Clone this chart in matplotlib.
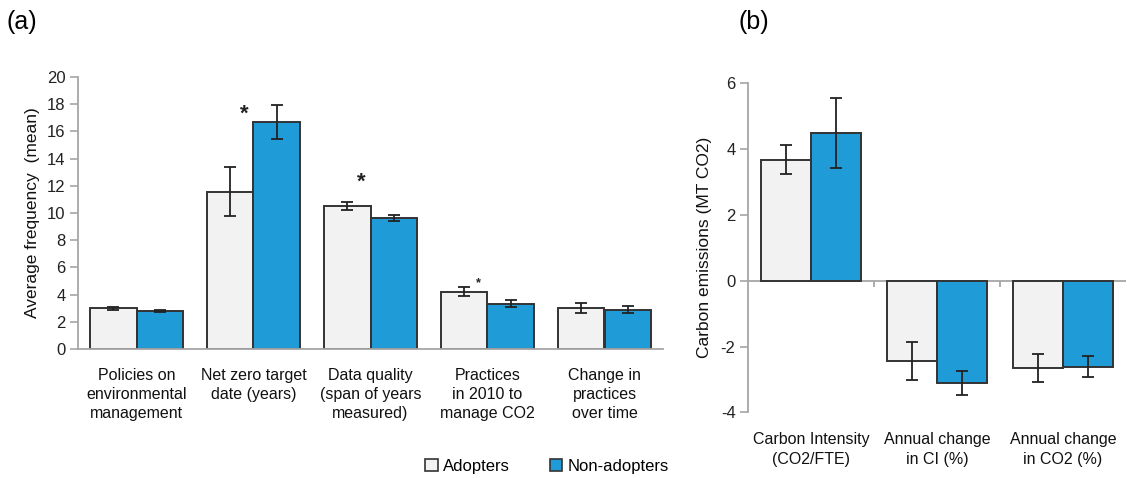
import matplotlib
matplotlib.use("Agg")
import matplotlib.pyplot as plt
from matplotlib.patches import Patch
import numpy as np

plt.rcParams['font.family'] = ['Liberation Sans', 'DejaVu Sans']
plt.rcParams['axes.unicode_minus'] = False

# ---- data panel (a)
cats_a = ["Policies on\nenvironmental\nmanagement", "Net zero target\ndate (years)",
          "Data quality\n(span of years\nmeasured)", "Practices\nin 2010 to\nmanage CO2",
          "Change in\npractices\nover time"]
adopt_a = [3.0, 11.57, 10.5, 4.2, 3.0]
adopt_a_err = [0.1, 1.8, 0.3, 0.33, 0.36]
non_a = [2.8, 16.67, 9.62, 3.32, 2.9]
non_a_err = [0.1, 1.25, 0.22, 0.25, 0.27]
stars_a_cat = [1, 2, 3]
stars_a_y = [17.3, 12.3, 4.85]
stars_a_size = [16, 16, 9]

# ---- data panel (b)
cats_b = ["Carbon Intensity\n(CO2/FTE)", "Annual change\nin CI (%)", "Annual change\nin CO2 (%)"]
adopt_b = [3.68, -2.44, -2.65]
adopt_b_err = [0.43, 0.58, 0.42]
non_b = [4.49, -3.10, -2.61]
non_b_err = [1.07, 0.36, 0.33]

c_ad = "#f2f2f2"
c_non = "#1f9cd8"
edge = "#333333"
axc = "#a6a6a6"

fig = plt.figure(figsize=(11.27, 4.78), dpi=100)
W, H = 1127, 478
ax_a = fig.add_axes([78 / W, 1 - 349 / H, (663 - 78) / W, (349 - 77) / H])
ax_b = fig.add_axes([748 / W, 1 - 412.3 / H, (1126 - 748) / W, (412.3 - 83.3) / H])

bw = 0.4
ekw = dict(ecolor="#222222", elinewidth=1.3, capsize=4, capthick=1.3)


def draw(ax, adopt, adopt_err, non, non_err):
    x = np.arange(len(adopt))
    ax.bar(x - bw / 2, adopt, bw, color=c_ad, edgecolor=edge, linewidth=1.4,
           yerr=adopt_err, error_kw=ekw, zorder=2)
    ax.bar(x + bw / 2, non, bw, color=c_non, edgecolor=edge, linewidth=1.4,
           yerr=non_err, error_kw=ekw, zorder=2)
    ax.set_xlim(-0.5, len(adopt) - 0.5)
    for s in ["top", "right"]:
        ax.spines[s].set_visible(False)
    ax.spines["left"].set_color(axc)
    ax.spines["left"].set_linewidth(1.3)
    ax.tick_params(axis="y", colors=axc, labelcolor="#222222", labelsize=12,
                   length=6, width=1.2, pad=3)
    return x


# panel (a)
x = draw(ax_a, adopt_a, adopt_a_err, non_a, non_a_err)
ax_a.set_ylim(0, 20)
ax_a.set_yticks(np.arange(0, 21, 2))
ax_a.spines["bottom"].set_color(axc)
ax_a.spines["bottom"].set_linewidth(1.3)
ax_a.set_xticks(x)
ax_a.set_xticklabels(cats_a, fontsize=11.5, linespacing=1.3)
ax_a.tick_params(axis="x", length=0, pad=14, labelcolor="#111111")
ax_a.set_ylabel("Average frequency  (mean)", fontsize=12.5, color="#111111", labelpad=5)
for ci, yv, fs in zip(stars_a_cat, stars_a_y, stars_a_size):
    ax_a.text(ci - 0.08, yv, "*", ha="center", va="center", fontsize=fs,
              fontweight="bold", color="#222222")

# panel (b)
x = draw(ax_b, adopt_b, adopt_b_err, non_b, non_b_err)
ax_b.set_ylim(-4, 6)
ax_b.set_yticks(np.arange(-4, 7, 2))
ax_b.spines["bottom"].set_visible(False)
ax_b.axhline(0, color=axc, linewidth=1.3, zorder=1)
ax_b.vlines(np.arange(0.5, len(adopt_b) - 0.5, 1.0), -0.2, 0, color=axc, linewidth=1.3, zorder=1)
ax_b.set_xticks(x)
ax_b.set_xticklabels(cats_b, fontsize=11.5, linespacing=1.4)
ax_b.tick_params(axis="x", length=0, pad=14, labelcolor="#111111")
ax_b.set_ylabel("Carbon emissions (MT CO2)", fontsize=12.5, color="#111111", labelpad=6)

# panel labels
fig.text(7 / W, 1 - 22 / H, "(a)", fontsize=18, va="center", ha="left")
fig.text(738 / W, 1 - 22 / H, "(b)", fontsize=18, va="center", ha="left")

# legend
handles = [Patch(facecolor=c_ad, edgecolor=edge, linewidth=1.2, label="Adopters"),
           Patch(facecolor=c_non, edgecolor=edge, linewidth=1.2, label="Non-adopters")]
fig.legend(handles=handles, loc="center", bbox_to_anchor=(547 / W, 1 - 466 / H),
           ncol=2, frameon=False, fontsize=12, handlelength=0.75, handleheight=0.75,
           handletextpad=0.3, columnspacing=2.4, borderaxespad=0)

fig.savefig("out.png", dpi=100)
